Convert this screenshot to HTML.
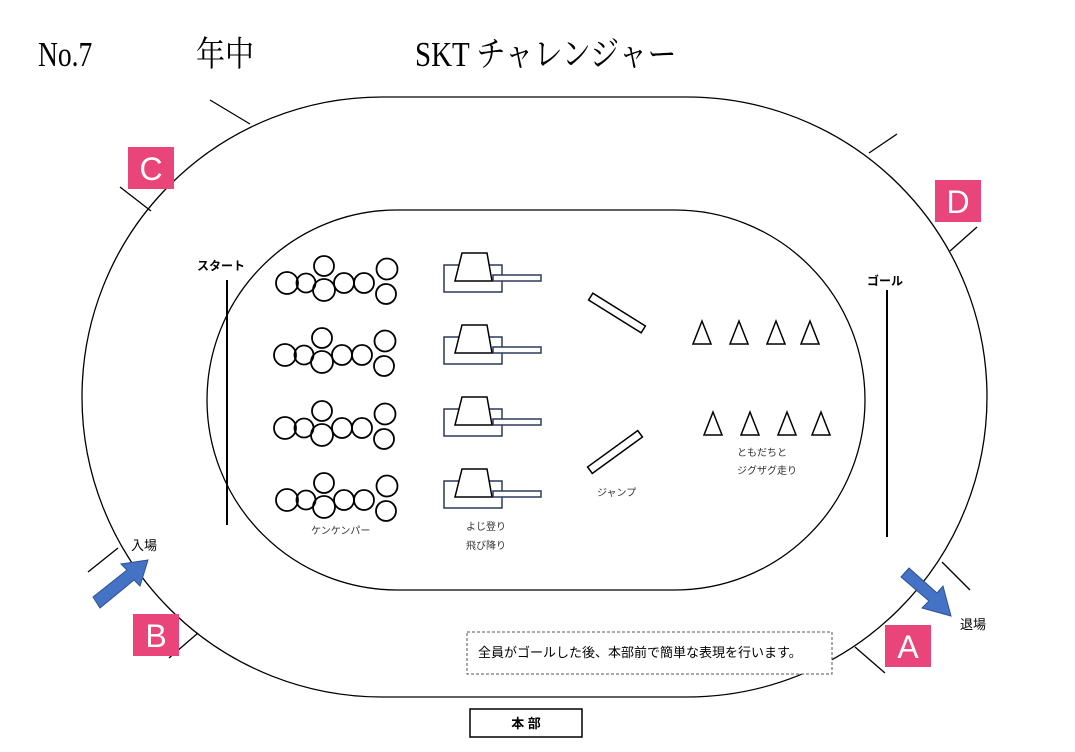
<!DOCTYPE html>
<html><head><meta charset="utf-8"><style>
body{margin:0;background:#fff;}
svg{display:block;font-family:"Liberation Serif","Noto Serif CJK SC",serif;}
.s{font-family:"Liberation Sans","Noto Sans CJK JP",sans-serif;}
</style></head><body>
<svg width="1075" height="752" viewBox="0 0 1075 752" xmlns="http://www.w3.org/2000/svg">
<rect width="1075" height="752" fill="#fff"/>
<g font-size="29">
<text transform="translate(38,66) scale(0.95,1.2)">No.7</text>
<text transform="translate(196,66) scale(1,1.2)">年中</text>
<text transform="translate(415,66) scale(1,1.2)">SKT チャレンジャー</text>
</g>
<g fill="none" stroke="#000" stroke-width="1.3">
<rect x="82" y="97" width="905" height="600" rx="300" ry="300"/>
<rect x="207" y="210" width="658" height="380" rx="190" ry="190"/>
<line x1="210" y1="100" x2="250" y2="124"/>
<line x1="120" y1="187" x2="151" y2="211"/>
<line x1="869" y1="153" x2="897" y2="134"/>
<line x1="950" y1="251" x2="977" y2="227"/>
<line x1="88" y1="572" x2="118" y2="548"/>
<line x1="169" y1="658" x2="198" y2="633"/>
<line x1="942" y1="562" x2="970" y2="590"/>
<line x1="855" y1="647" x2="885" y2="673"/>
<line x1="227" y1="280" x2="227" y2="525" stroke-width="2"/>
<line x1="887" y1="290" x2="887" y2="537" stroke-width="2"/>
</g>
<g fill="#e9457b">
<rect x="128" y="147" width="46" height="42"/>
<rect x="935" y="180" width="46" height="42"/>
<rect x="133" y="614" width="46" height="42"/>
<rect x="885" y="625" width="46" height="42"/>
</g>
<g fill="#fff" font-size="32" text-anchor="middle" font-family="Liberation Sans,sans-serif">
<text x="151" y="180">C</text><text x="958" y="213">D</text>
<text x="156" y="647">B</text><text x="908" y="658">A</text>
</g>
<g class="s" font-size="12" font-weight="bold">
<text x="197" y="270">スタート</text><text x="867" y="285">ゴール</text>
</g>
<g fill="none" stroke="#000" stroke-width="1.8">
<g id="c">
<circle cx="287" cy="283" r="11"/><circle cx="306" cy="283" r="9.5"/>
<circle cx="324" cy="266" r="10"/><circle cx="324" cy="290" r="11"/>
<circle cx="344" cy="283" r="10"/><circle cx="364" cy="283" r="10"/>
<circle cx="387" cy="269" r="10.5"/><circle cx="386" cy="294" r="10"/>
</g>
<use href="#c" transform="translate(-2,72)"/>
<use href="#c" transform="translate(-2,145)"/>
<use href="#c" transform="translate(0,217)"/>
</g>
<g id="p" fill="none" stroke-width="1.5">
<rect x="444" y="265" width="58" height="27" stroke="#2c3a5a"/>
<polygon points="462,253 487,253 492,281 455,281" fill="#fff" stroke="#000"/>
<rect x="493" y="275" width="48" height="6" fill="#fff" stroke="#2c3a5a"/>
</g>
<use href="#p" transform="translate(0,72)"/>
<use href="#p" transform="translate(0,144)"/>
<use href="#p" transform="translate(0,216)"/>
<g fill="none" stroke="#000" stroke-width="1.5">
<rect x="586" y="309" width="62" height="8" transform="rotate(32 617 313)"/>
<rect x="584" y="448" width="62" height="8" transform="rotate(-36 615 452)"/>
<g id="t"><polygon points="702,321 693,344 711,344"/><polygon points="739,321 730,344 748,344"/><polygon points="776,321 767,344 785,344"/><polygon points="810,321 801,344 819,344"/></g>
<use href="#t" transform="translate(11,91)"/>
</g>
<g class="s" font-size="10" fill="#333">
<text x="311" y="534">ケンケンパー</text>
<text x="466" y="530">よじ登り</text>
<text x="466" y="549">飛び降り</text>
<text x="597" y="496">ジャンプ</text>
<text x="737" y="456">ともだちと</text>
<text x="737" y="474">ジグザグ走り</text>
</g>
<g class="s" font-size="13">
<text x="131" y="550">入場</text>
<text x="960" y="629">退場</text>
</g>
<polygon points="93,597 127,570 121,564 148,560 140,586 134,580 100,608" fill="#4472c4" stroke="#2f528f" stroke-width="1"/>
<polygon points="909,568 937,593 943,586 951,616 922,608 929,601 901,577" fill="#4472c4" stroke="#2f528f" stroke-width="1"/>
<rect x="467" y="632" width="365" height="42" fill="#fff" stroke="#555" stroke-dasharray="3,2"/>
<text x="478" y="657" class="s" font-size="13">全員がゴールした後、本部前で簡単な表現を行います。</text>
<rect x="470" y="709" width="112" height="28" fill="#fff" stroke="#000" stroke-width="1.5"/>
<text x="526" y="728" class="s" font-size="13" font-weight="bold" text-anchor="middle">本 部</text>
</svg>
</body></html>
